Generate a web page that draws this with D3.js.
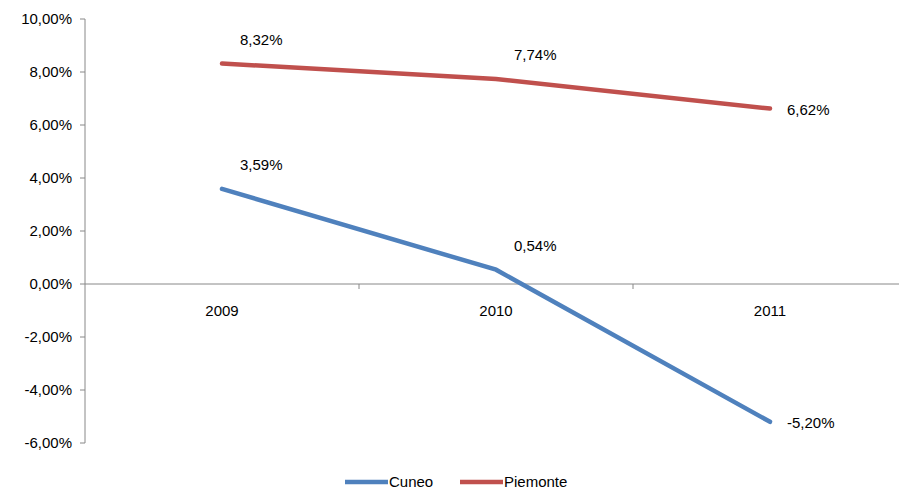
<!DOCTYPE html>
<meta charset="utf-8">
<head>
<style>
  body { margin: 0; background: #fff; }
  text { font-family: "Liberation Sans", sans-serif; font-size: 15px; fill: #000; }
</style>
<script src="https://d3js.org/d3.v7.min.js"></script>
</head>
<body>
<script>
const years = ["2009", "2010", "2011"]
const cuneo = [3.59, 0.54, -5.20]
const piemonte = [8.32, 7.74, 6.62]
const yTicks = [-6, -4, -2, 0, 2, 4, 6, 8, 10]

const width = 899, height = 491
const fmt = v => d3.format(".2f")(v).replace(".", ",").replace("−", "-") + "%"

const svg = d3.select("body").append("svg").attr("width", width).attr("height", height)

const x = d3.scaleBand().domain(years).range([85, 907])
const y = d3.scaleLinear().domain([-6, 10]).range([443, 19])

// y axis
svg.append("line").attr("x1", 85).attr("x2", 85).attr("y1", y(10)).attr("y2", y(-6)).attr("stroke", "#888")
yTicks.forEach(t => {
  svg.append("line").attr("x1", 80).attr("x2", 85).attr("y1", y(t)).attr("y2", y(t)).attr("stroke", "#888")
  svg.append("text").attr("x", 72).attr("y", y(t) + 5).attr("text-anchor", "end").text(fmt(t))
})

// x axis at zero
svg.append("line").attr("x1", 85).attr("x2", 907).attr("y1", y(0)).attr("y2", y(0)).attr("stroke", "#888")
years.forEach((yr, i) => {
  const bx = x(yr) + x.bandwidth()
  svg.append("line").attr("x1", bx).attr("x2", bx).attr("y1", y(0)).attr("y2", y(0) + 5).attr("stroke", "#888")
  svg.append("text").attr("x", x(yr) + x.bandwidth() / 2).attr("y", y(0) + 32).attr("text-anchor", "middle").text(yr)
})

const cx = d => x(d) + x.bandwidth() / 2
const line = d3.line().x((d, i) => cx(years[i])).y(d => y(d))

const series = [
  { name: "Cuneo", values: cuneo, color: "#4f81bd" },
  { name: "Piemonte", values: piemonte, color: "#c0504d" }
]

series.forEach(s => {
  svg.append("path").datum(s.values).attr("d", line)
    .attr("fill", "none").attr("stroke", s.color).attr("stroke-width", 4.5).attr("stroke-linecap", "round")
  s.values.forEach((v, i) => {
    const last = i === years.length - 1
    svg.append("text")
      .attr("x", cx(years[i]) + (last ? 17 : 18))
      .attr("y", last ? y(v) + 6 : y(v) - 19)
      .text(fmt(v))
  })
})

// legend
const legend = [{ x: 345 }, { x: 460 }]
series.forEach((s, i) => {
  svg.append("line").attr("x1", legend[i].x).attr("x2", legend[i].x + 43).attr("y1", 482).attr("y2", 482)
    .attr("stroke", s.color).attr("stroke-width", 4.5)
  svg.append("text").attr("x", legend[i].x + 44).attr("y", 487).text(s.name)
})
</script>
</body>
